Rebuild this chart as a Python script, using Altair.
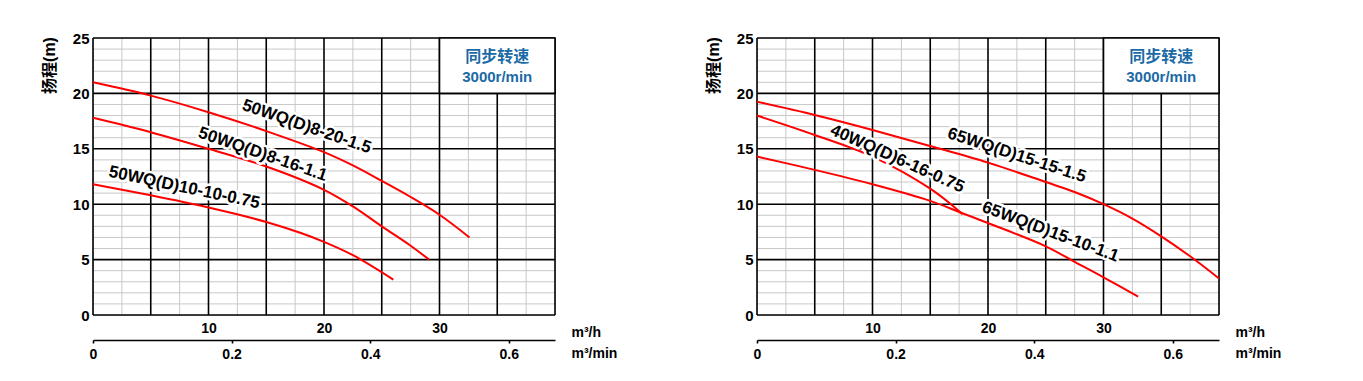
import altair as alt
import pandas as pd

# ---------------- data ----------------
# Left panel curves (flow m3/h, head m)
L1_NAME = "50WQ(D)8-20-1.5"
L1_Q = [0, 5, 10, 15, 20, 22.5, 25, 27.5, 30, 32.6]
L1_H = [21.0, 19.8, 18.3, 16.6, 14.7, 13.5, 12.1, 10.65, 9.05, 7.0]
L2_NAME = "50WQ(D)8-16-1.1"
L2_Q = [0, 5, 10, 15, 20, 22.5, 25, 27.5, 29.1]
L2_H = [17.8, 16.5, 15.0, 13.4, 11.3, 9.8, 8.0, 6.25, 5.0]
L3_NAME = "50WQ(D)10-10-0.75"
L3_Q = [0, 5, 10, 15, 18, 20, 22.5, 26.0]
L3_H = [11.8, 10.8, 9.7, 8.4, 7.4, 6.6, 5.4, 3.2]

# Right panel curves
R1_NAME = "65WQ(D)15-15-1.5"
R1_Q = [0, 5, 10, 15, 20, 25, 27.5, 30, 32.5, 35, 37.5, 40]
R1_H = [19.25, 18.05, 16.7, 15.25, 13.75, 12.0, 11.1, 10.0, 8.7, 7.1, 5.3, 3.3]
R2_NAME = "40WQ(D)6-16-0.75"
R2_Q = [0, 5, 10, 15, 17.8]
R2_H = [18.0, 16.25, 14.3, 11.4, 9.1]
R3_NAME = "65WQ(D)15-10-1.1"
R3_Q = [0, 5, 10, 15, 17.5, 20, 25, 27.5, 30, 33.0]
R3_H = [14.3, 13.1, 11.8, 10.3, 9.3, 8.3, 6.2, 4.8, 3.4, 1.65]

# Curve label anchors (Q, H, rotation in degrees)
LEFT_LABELS = [L1_NAME, L2_NAME, L3_NAME]
LEFT_LABEL_Q = [18.5, 14.7, 7.9]
LEFT_LABEL_H = [17.0, 14.5, 11.5]
LEFT_LABEL_ANGLE = [19, 19, 12]
RIGHT_LABELS = [R2_NAME, R1_NAME, R3_NAME]
RIGHT_LABEL_Q = [12.15, 22.5, 25.4]
RIGHT_LABEL_H = [14.1, 14.4, 7.5]
RIGHT_LABEL_ANGLE = [24, 18, 20.5]

# Axes / grid values
Q_MAJOR = [0, 5, 10, 15, 20, 25, 30, 35, 40]
Q_MINOR = [2.5, 7.5, 12.5, 17.5, 22.5, 27.5, 32.5, 37.5]
H_MAJOR = [0, 5, 10, 15, 20, 25]
H_MINOR = [h for h in range(1, 25) if h % 5 != 0]
Q_LABELS = [10, 20, 30]
MIN_LABELS = [0, 0.2, 0.4, 0.6]

# Speed box
BOX_TEXT = ["同步转速", "3000r/min"]
BOX_Q = [30, 40]
BOX_H = [20, 25]
BOX_TEXT_Q = [35, 35]
BOX_TEXT_H = [23.3, 21.5]

FONT = "Liberation Sans, Arial, 'Noto Sans CJK SC', sans-serif"
W, H = 462, 277
BLUE = "#1b6aa5"

XS = alt.Scale(domain=[0, 40], nice=False, zero=False)
YS = alt.Scale(domain=[0, 25], nice=False, zero=False)

YAX = alt.Axis(
    orient="left",
    values=H_MAJOR,
    grid=False,
    domain=False,
    ticks=False,
    labelFont=FONT,
    labelFontSize=15,
    labelFontWeight="bold",
    labelColor="black",
    labelPadding=4,
    title="扬程(m)",
    titleFont=FONT,
    titleFontSize=16,
    titleFontWeight="bold",
    titleColor="black",
    titleAngle=270,
    titleAlign="center",
    titleBaseline="middle",
    titleX=-44,
    titleY=27,
)


def yenc(field):
    return alt.Y(field, scale=YS, axis=YAX)


def xenc(field):
    return alt.X(field, scale=XS, axis=None)


def panel(curves, lab_text, lab_q, lab_h, lab_ang):
    rows = []
    for name, qs, hs in curves:
        for q, h in zip(qs, hs):
            rows.append({"name": name, "Q": q, "H": h})
    cdf = pd.DataFrame(rows)
    ldf = pd.DataFrame({"t": lab_text, "Q": lab_q, "H": lab_h, "a": lab_ang})

    grey_v = alt.Chart(pd.DataFrame({"Q": Q_MINOR})).mark_rule(
        color="#c8c8c8", strokeWidth=1
    ).encode(x=xenc("Q:Q"))
    grey_h = alt.Chart(pd.DataFrame({"H": H_MINOR})).mark_rule(
        color="#c8c8c8", strokeWidth=1
    ).encode(y=yenc("H:Q"))
    black_v = alt.Chart(pd.DataFrame({"Q": Q_MAJOR})).mark_rule(
        color="black", strokeWidth=1.6
    ).encode(
        x=alt.X(
            "Q:Q",
            scale=XS,
            axis=alt.Axis(
                orient="bottom",
                values=Q_LABELS,
                grid=False,
                domain=False,
                ticks=False,
                labelFlush=False,
                labelFont=FONT,
                labelFontSize=14,
                labelFontWeight="bold",
                labelColor="black",
                labelPadding=6,
                title="m³/h",
                titleFont=FONT,
                titleFontSize=14,
                titleFontWeight="bold",
                titleColor="black",
                titleAlign="left",
                titleBaseline="middle",
                titleAngle=0,
                titleX=478,
                titleY=17,
            ),
        )
    )
    black_h = alt.Chart(pd.DataFrame({"H": H_MAJOR})).mark_rule(
        color="black", strokeWidth=1.6
    ).encode(y=yenc("H:Q"))
    box = alt.Chart(
        pd.DataFrame({"q1": [BOX_Q[0]], "q2": [BOX_Q[1]], "h1": [BOX_H[0]], "h2": [BOX_H[1]]})
    ).mark_rect(fill="white", stroke="black", strokeWidth=1.6).encode(
        x=xenc("q1:Q"),
        x2="q2:Q",
        y=yenc("h1:Q"),
        y2="h2:Q",
    )
    box_txt1 = alt.Chart(
        pd.DataFrame({"t": BOX_TEXT[:1], "Q": BOX_TEXT_Q[:1], "H": BOX_TEXT_H[:1]})
    ).mark_text(font=FONT, fontSize=16, fontWeight="bold", color=BLUE).encode(
        x=xenc("Q:Q"), y=yenc("H:Q"), text="t:N"
    )
    box_txt2 = alt.Chart(
        pd.DataFrame({"t": BOX_TEXT[1:], "Q": BOX_TEXT_Q[1:], "H": BOX_TEXT_H[1:]})
    ).mark_text(font=FONT, fontSize=15, fontWeight="bold", color=BLUE).encode(
        x=xenc("Q:Q"), y=yenc("H:Q"), text="t:N"
    )
    lines = alt.Chart(cdf).mark_line(
        color="#ff0000", strokeWidth=2, interpolate="catmull-rom"
    ).encode(
        x=xenc("Q:Q"),
        y=yenc("H:Q"),
        detail="name:N",
    )
    lab_enc = dict(
        x=xenc("Q:Q"),
        y=yenc("H:Q"),
        text="t:N",
        angle=alt.Angle("a:Q", scale=None),
    )
    halo = alt.Chart(ldf).mark_text(
        font=FONT, fontSize=17, fontWeight="bold", fill="white", stroke="white",
        strokeWidth=5, strokeJoin="round",
    ).encode(**lab_enc)
    labels = alt.Chart(ldf).mark_text(
        font=FONT, fontSize=17, fontWeight="bold", color="black"
    ).encode(**lab_enc)

    min_axis = alt.Chart(pd.DataFrame({"m": MIN_LABELS})).mark_point(opacity=0).encode(
        x=alt.X(
            "m:Q",
            scale=alt.Scale(domain=[0, 40 / 60], nice=False, zero=False),
            axis=alt.Axis(
                orient="bottom",
                offset=25,
                values=MIN_LABELS,
                format=".1~f",
                grid=False,
                domain=True,
                domainColor="black",
                domainWidth=1.6,
                ticks=True,
                tickColor="black",
                tickWidth=1.6,
                tickSize=3,
                labelFlush=False,
                labelFont=FONT,
                labelFontSize=14,
                labelFontWeight="bold",
                labelColor="black",
                labelPadding=4,
                title="m³/min",
                titleFont=FONT,
                titleFontSize=14,
                titleFontWeight="bold",
                titleColor="black",
                titleAlign="left",
                titleBaseline="middle",
                titleAngle=0,
                titleX=478,
                titleY=13,
            ),
        )
    )
    return alt.layer(
        grey_v, grey_h, black_v, black_h, box, box_txt1, box_txt2, lines, halo, labels,
        min_axis,
    ).resolve_scale(x="independent").properties(width=W, height=H)


left = panel(
    [(L1_NAME, L1_Q, L1_H), (L2_NAME, L2_Q, L2_H), (L3_NAME, L3_Q, L3_H)],
    LEFT_LABELS, LEFT_LABEL_Q, LEFT_LABEL_H, LEFT_LABEL_ANGLE,
)
right = panel(
    [(R1_NAME, R1_Q, R1_H), (R2_NAME, R2_Q, R2_H), (R3_NAME, R3_Q, R3_H)],
    RIGHT_LABELS, RIGHT_LABEL_Q, RIGHT_LABEL_H, RIGHT_LABEL_ANGLE,
)

chart = alt.hconcat(left, right, spacing=202, bounds="flush").properties(
    padding={"left": 32, "top": 22, "right": 5, "bottom": 5}
).configure_view(stroke=None).configure(background="white")

chart.save("out.html", embed_options={"renderer": "svg", "actions": False})
